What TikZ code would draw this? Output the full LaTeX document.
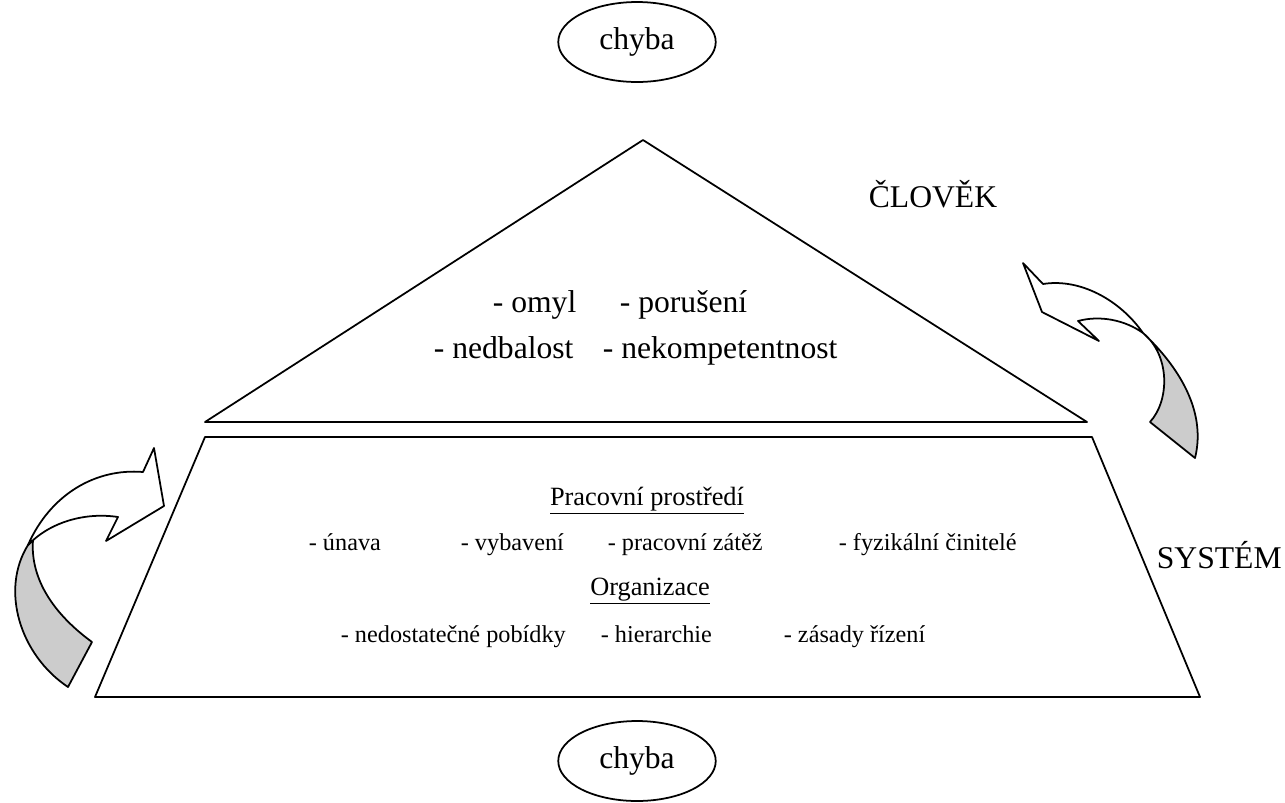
\documentclass[tikz,border=0pt]{standalone}
\usepackage{fontspec}
\setmainfont{Liberation Serif}
\usetikzlibrary{shapes.geometric}
\tikzset{
  bigtext/.style={font=\fontsize{18}{22}\selectfont,inner sep=0pt},
  headtext/.style={font=\fontsize{15}{18}\selectfont,inner sep=0pt,anchor=base},
  itemtext/.style={font=\fontsize{13.8}{16}\selectfont,inner sep=0pt,anchor=base west},
  errbubble/.style={draw,ellipse,minimum width=3.15cm,minimum height=1.6cm,
    font=\fontsize{18}{22}\selectfont},
  backside/.style={draw,fill=black!20},
  frontside/.style={draw,fill=white},
}
\begin{document}
\begin{tikzpicture}[x=0.02cm,y=-0.02cm,line width=1pt,line cap=round,line join=round]
\useasboundingbox (0,0) rectangle (1285,802);
\node[errbubble] (chybatop) at (637,42) {chyba};
\node[errbubble] (chybabot) at (637,761) {chyba};
% clovek
\draw (643,140) -- (1087,422) -- (205,422) -- cycle;
% system
\draw (205,437) -- (1092,437) -- (1200,697) -- (95,697) -- cycle;
\node[bigtext,anchor=base] (clovek) at (933,207) {ČLOVĚK};
\node[bigtext,anchor=base west] (system) at (1156,568) {SYSTÉM};
\node[bigtext,anchor=base west] (omyl) at (492,312) {- omyl};
\node[bigtext,anchor=base west] (poruseni) at (619,312) {- porušení};
\node[bigtext,anchor=base west] (nedbalost) at (433,358) {- nedbalost};
\node[bigtext,anchor=base west] (nekomp) at (602,358) {- nekompetentnost};
\node[headtext] (prostredi) at (647,505) {\underline{Pracovní prostředí}};
\node[itemtext] (unava) at (308,550) {- únava};
\node[itemtext] (vybaveni) at (460,550) {- vybavení};
\node[itemtext] (zatez) at (607,550) {- pracovní zátěž};
\node[itemtext] (cinitele) at (838,550) {- fyzikální činitelé};
\node[headtext] (organizace) at (650,595) {\underline{Organizace}};
\node[itemtext] (pobidky) at (340,642) {- nedostatečné pobídky};
\node[itemtext] (hierarchie) at (600,642) {- hierarchie};
\node[itemtext] (rizeni) at (783,642) {- zásady řízení};
% arrow right
\draw[backside] (1143,333) .. controls (1177,365) and (1207,410) .. (1195,458)
    -- (1150,422) .. controls (1170,400) and (1170,355) .. (1143,333) -- cycle;
\draw[frontside] (1143,333) .. controls (1120,300) and (1080,278) .. (1043,284)
    -- (1023,263) -- (1042,312) -- (1099,341) -- (1078,321)
    .. controls (1100,315) and (1125,320) .. (1143,333) -- cycle;
% arrow left
\draw[backside] (28,545) .. controls (0,590) and (20,655) .. (68,687)
    -- (92,642) .. controls (55,615) and (30,580) .. (33,540) -- cycle;
\draw[frontside] (28,545) .. controls (50,495) and (95,468) .. (143,472)
    -- (154,448) -- (164,506) -- (106,541) -- (118,517)
    .. controls (85,512) and (50,522) .. (28,545) -- cycle;
\end{tikzpicture}
\end{document}
